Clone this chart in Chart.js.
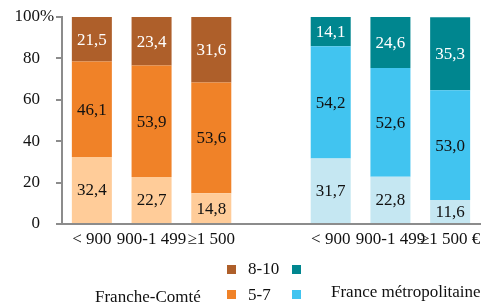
<!DOCTYPE html>
<html>
<head>
<meta charset="utf-8">
<script src="https://cdn.jsdelivr.net/npm/chart.js@4/dist/chart.umd.min.js"></script>
<style>
  body { margin: 0; background: #fff; font-family: "Liberation Serif", serif; }
  #wrap { position: relative; width: 494px; height: 306px; }
  .sq { position: absolute; width: 9px; height: 9px; }
  .lb { position: absolute; font-size: 17px; line-height: 17px; color: #111; white-space: nowrap; }
</style>
</head>
<body>
<div id="wrap">
  <canvas id="chart" width="494" height="306" style="width:494px;height:306px"></canvas>
  <div class="sq" style="left:227px;top:265px;background:#AE5F2A"></div>
  <div class="sq" style="left:292px;top:265px;background:#00868F"></div>
  <div class="lb" style="left:248px;top:260px">8-10</div>
  <div class="sq" style="left:227px;top:290px;background:#F08228"></div>
  <div class="sq" style="left:292px;top:290px;background:#41C4F0"></div>
  <div class="lb" style="left:248px;top:286px">5-7</div>
  <div class="lb" style="left:95px;top:288px">Franche-Comté</div>
  <div class="lb" style="left:331px;top:283px">France métropolitaine</div>
</div>
<script>
const categories = ['< 900', '900-1 499', '≥1 500', '', '< 900', '900-1 499', '≥1 500 €'];
const yTicks = [0, 20, 40, 60, 80, 100];

// Franche-Comté
const fcLow  = [32.4, 22.7, 14.8, null, null, null, null];
const fcMid  = [46.1, 53.9, 53.6, null, null, null, null];
const fcHigh = [21.5, 23.4, 31.6, null, null, null, null];
// France métropolitaine
const frLow  = [null, null, null, null, 31.7, 22.8, 11.6];
const frMid  = [null, null, null, null, 54.2, 52.6, 53.0];
const frHigh = [null, null, null, null, 14.1, 24.6, 35.3];

const FONT = '"Liberation Serif", "Times New Roman", serif';

const valueLabels = {
  id: 'valueLabels',
  afterDatasetsDraw(chart) {
    const ctx = chart.ctx;
    ctx.save();
    ctx.font = '17px ' + FONT;
    ctx.textAlign = 'center';
    ctx.textBaseline = 'middle';
    chart.data.datasets.forEach((ds, i) => {
      chart.getDatasetMeta(i).data.forEach((bar, j) => {
        const v = ds.data[j];
        if (v == null) return;
        ctx.fillStyle = ds.labelColor;
        ctx.fillText(v.toFixed(1).replace('.', ','), bar.x, (bar.y + bar.base) / 2 + 1);
      });
    });
    ctx.restore();
  }
};

const percentSign = {
  id: 'percentSign',
  afterDraw(chart) {
    const y = chart.scales.y;
    const ctx = chart.ctx;
    ctx.save();
    ctx.font = '17px ' + FONT;
    ctx.fillStyle = '#111';
    ctx.textAlign = 'left';
    ctx.textBaseline = 'middle';
    ctx.fillText('%', y.right - 22, y.getPixelForValue(100));
    ctx.restore();
  }
};

new Chart(document.getElementById('chart'), {
  type: 'bar',
  data: {
    labels: categories,
    datasets: [
      { data: fcLow,  backgroundColor: '#FFCC99', labelColor: '#111' },
      { data: fcMid,  backgroundColor: '#F08228', labelColor: '#111' },
      { data: fcHigh, backgroundColor: '#AE5F2A', labelColor: '#fff' },
      { data: frLow,  backgroundColor: '#C5E7F2', labelColor: '#111' },
      { data: frMid,  backgroundColor: '#41C4F0', labelColor: '#111' },
      { data: frHigh, backgroundColor: '#00868F', labelColor: '#fff' }
    ]
  },
  options: {
    responsive: false,
    animation: false,
    layout: { padding: { top: 17, right: 14, left: 0, bottom: 0 } },
    datasets: { bar: { categoryPercentage: 1, barPercentage: 0.67, skipNull: false } },
    plugins: { legend: { display: false }, tooltip: { enabled: false } },
    scales: {
      x: {
        stacked: true,
        grid: { display: false, drawTicks: false },
        border: { color: '#8c8c8c', width: 2 },
        ticks: { color: '#111', font: { family: FONT, size: 17 }, padding: 5, maxRotation: 0, autoSkip: false },
        afterFit(s) { s.height = 82; s.paddingLeft = 0; s.paddingRight = 0; }
      },
      y: {
        stacked: true,
        min: 0,
        max: 100,
        afterBuildTicks(s) { s.ticks = yTicks.map(v => ({ value: v })); },
        grid: { drawOnChartArea: false, drawTicks: true, tickLength: 6, color: '#8c8c8c', lineWidth: 2 },
        border: { color: '#8c8c8c', width: 2 },
        ticks: { color: '#111', font: { family: FONT, size: 17 }, padding: 16 },
        afterFit(s) { s.width = 62; s.paddingTop = 0; s.paddingBottom = 0; }
      }
    }
  },
  plugins: [valueLabels, percentSign]
});
</script>
</body>
</html>
